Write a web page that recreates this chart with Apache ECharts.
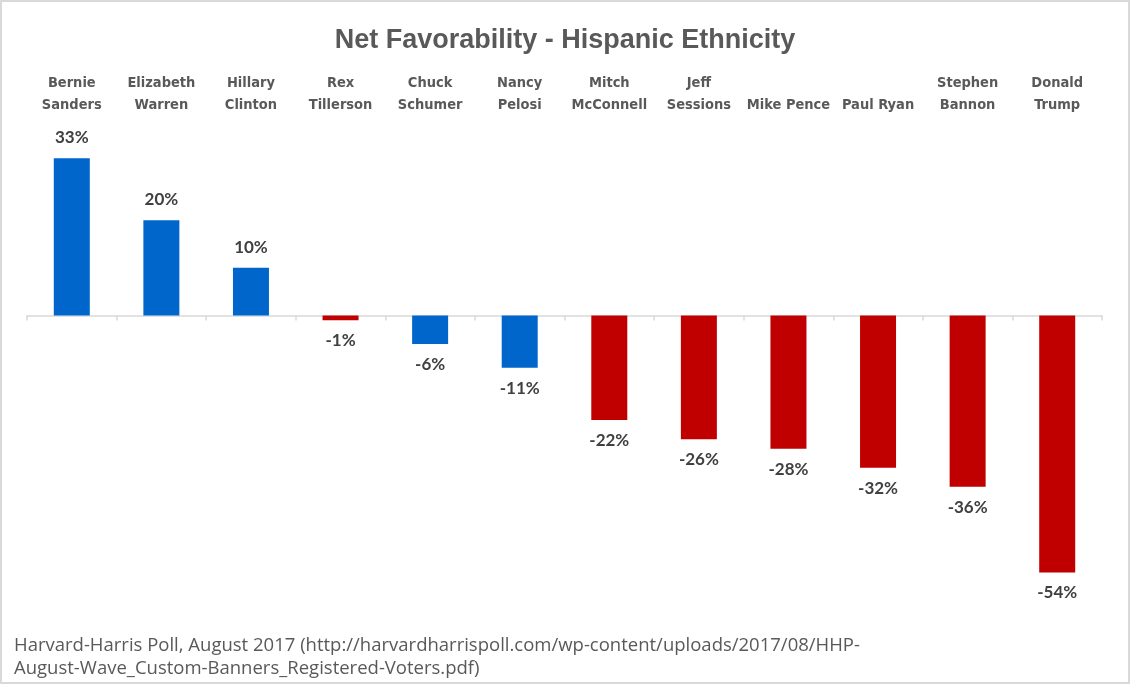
<!DOCTYPE html>
<html>
<head>
<meta charset="utf-8">
<script src="https://cdn.jsdelivr.net/npm/echarts@6/dist/echarts.min.js"></script>
<style>html,body{margin:0;padding:0;background:#fff;}#c{width:1130px;height:684px;}</style>
</head>
<body>
<div id="c"></div>
<script>
const categories = ['Bernie\nSanders','Elizabeth\nWarren','Hillary\nClinton','Rex\nTillerson','Chuck\nSchumer','Nancy\nPelosi','Mitch\nMcConnell','Jeff\nSessions','Mike Pence','Paul Ryan','Stephen\nBannon','Donald\nTrump'];
const values = [33, 20, 10, -1, -6, -11, -22, -26, -28, -32, -36, -54];
const parties = ['D','D','D','R','D','D','R','R','R','R','R','R'];
const partyColors = { D: '#0066CC', R: '#C00000' };

const chart = echarts.init(document.getElementById('c'), null, { renderer: 'canvas' });
const data = values.map((v, i) => ({
  value: v,
  itemStyle: { color: partyColors[parties[i]] },
  label: { position: v >= 0 ? 'top' : 'bottom' }
}));
chart.setOption({
  animation: false,
  backgroundColor: '#fff',
  title: [{
    text: 'Net Favorability - Hispanic Ethnicity',
    left: 'center', top: 22,
    textStyle: { fontFamily: 'Liberation Sans, Arial', fontWeight: 'bold', fontSize: 27, color: '#595959' }
  }, {
    text: 'Harvard-Harris Poll, August 2017 (http://harvardharrispoll.com/wp-content/uploads/2017/08/HHP-\nAugust-Wave_Custom-Banners_Registered-Voters.pdf)',
    left: 9, top: 629,
    textStyle: { fontFamily: 'Open Sans', fontWeight: 'normal', fontSize: 18.5, color: '#595959', lineHeight: 23 }
  }],
  graphic: [{
    type: 'rect', shape: { x: 1, y: 1, width: 1128, height: 682 },
    style: { fill: 'none', stroke: '#d9d9d9', lineWidth: 2 }, silent: true
  }],
  grid: { left: 27, right: 28, top: 125, bottom: 83, containLabel: false },
  xAxis: [{
    type: 'category', data: categories, position: 'bottom',
    axisLine: { onZero: true, lineStyle: { color: '#d9d9d9', width: 1.5 } },
    axisTick: { show: true, length: 5, lineStyle: { color: '#d9d9d9', width: 1.5 } },
    axisLabel: { show: false }
  }, {
    type: 'category', data: categories, position: 'top',
    axisLine: { show: false }, axisTick: { show: false },
    axisLabel: {
      show: true, interval: 0, margin: 9,
      fontFamily: "'DejaVu Sans Condensed', sans-serif", fontWeight: 'bold', fontSize: 14.5,
      color: '#595959', lineHeight: 22
    }
  }],
  yAxis: { type: 'value', min: -60, max: 40, show: false, splitLine: { show: false } },
  series: [{
    type: 'bar', data: data, barWidth: 36, xAxisIndex: 0,
    label: {
      show: true, distance: 12, formatter: p => p.value + '%',
      fontFamily: 'Lato', fontWeight: 'bold', fontSize: 17, color: '#404040'
    }
  }]
});
</script>
</body>
</html>
